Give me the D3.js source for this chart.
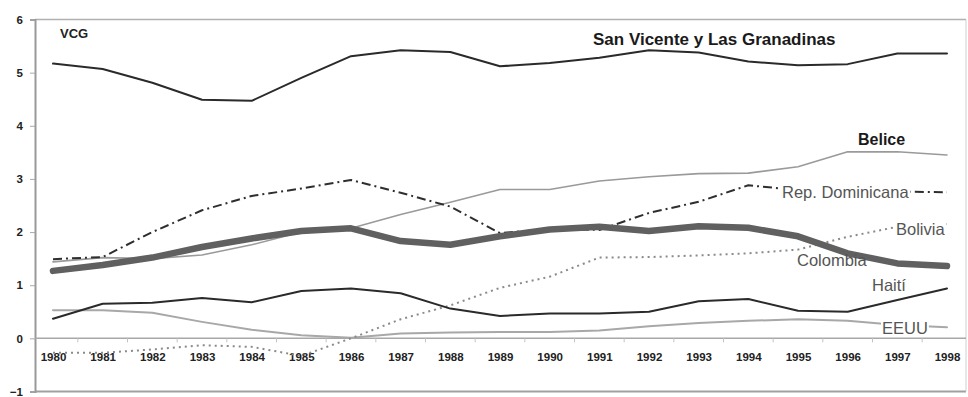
<!DOCTYPE html>
<html>
<head>
<meta charset="utf-8">
<script src="https://cdn.jsdelivr.net/npm/d3@7"></script>
<style>
  html, body { margin: 0; padding: 0; background: #fff; }
  svg { display: block; font-family: "Liberation Sans", Arial, sans-serif; }
</style>
</head>
<body>
<svg id="chart" width="968" height="397"></svg>
<script>
// Years on the category axis
const years = [1980, 1981, 1982, 1983, 1984, 1985, 1986, 1987, 1988, 1989,
               1990, 1991, 1992, 1993, 1994, 1995, 1996, 1997, 1998];
const yTicks = [-1, 0, 1, 2, 3, 4, 5, 6];

// Series values per year
const sanVicente = [5.17, 5.07, 4.81, 4.49, 4.47, 4.90, 5.31, 5.42, 5.39, 5.12,
                    5.18, 5.28, 5.42, 5.38, 5.21, 5.14, 5.16, 5.36, 5.36];
const belice     = [1.44, 1.52, 1.50, 1.57, 1.76, 2.00, 2.07, 2.33, 2.56, 2.80,
                    2.80, 2.96, 3.04, 3.10, 3.11, 3.23, 3.51, 3.51, 3.45];
const repDom     = [1.49, 1.53, 2.00, 2.41, 2.68, 2.82, 2.98, 2.74, 2.48, 1.98,
                    2.06, 2.04, 2.36, 2.57, 2.88, 2.79, 2.76, 2.76, 2.75];
const bolivia    = [-0.27, -0.27, -0.21, -0.13, -0.16, -0.33, 0.00, 0.36, 0.62, 0.95,
                    1.16, 1.52, 1.53, 1.56, 1.60, 1.67, 1.91, 2.10, 2.15];
const colombia   = [1.27, 1.38, 1.52, 1.72, 1.88, 2.02, 2.07, 1.83, 1.76, 1.92,
                    2.05, 2.10, 2.02, 2.11, 2.08, 1.92, 1.60, 1.41, 1.36];
const haiti      = [0.37, 0.65, 0.67, 0.76, 0.68, 0.89, 0.94, 0.85, 0.56, 0.42,
                    0.47, 0.47, 0.50, 0.70, 0.74, 0.52, 0.50, 0.72, 0.94];
const eeuu       = [0.53, 0.53, 0.48, 0.31, 0.16, 0.06, 0.01, 0.09, 0.11, 0.12,
                    0.12, 0.15, 0.23, 0.29, 0.33, 0.36, 0.33, 0.25, 0.21];

const series = [
  { name: "EEUU",                         values: eeuu,       color: "#a8a8a8", width: 2,   dash: null },
  { name: "Bolivia",                      values: bolivia,    color: "#8a8a8a", width: 2,   dash: "2,4" },
  { name: "Belice",                       values: belice,     color: "#9a9a9a", width: 1.6, dash: null },
  { name: "Rep. Dominicana",              values: repDom,     color: "#2e2e2e", width: 2,   dash: "9,4,2,4" },
  { name: "Colombia",                     values: colombia,   color: "#606060", width: 6.5, dash: null },
  { name: "Haití",                        values: haiti,      color: "#2a2a2a", width: 2,   dash: null },
  { name: "San Vicente y Las Granadinas", values: sanVicente, color: "#2a2a2a", width: 2,   dash: null }
];

const svg = d3.select("#chart");
const frame = { left: 35, right: 966, top: 19.5, bottom: 391.5 };

const x = d3.scalePoint().domain(years).range([53, 947]);
const y = d3.scaleLinear().domain([-1, 6]).range([frame.bottom, frame.top]);

// Plot frame
svg.append("line").attr("x1", frame.left).attr("x2", frame.right)
  .attr("y1", frame.top).attr("y2", frame.top)
  .attr("stroke", "#b0b0b0").attr("stroke-width", 1.5);
svg.append("line").attr("x1", frame.left).attr("x2", frame.right)
  .attr("y1", frame.bottom).attr("y2", frame.bottom)
  .attr("stroke", "#a0a0a0").attr("stroke-width", 2);
svg.append("line").attr("x1", frame.right).attr("x2", frame.right)
  .attr("y1", frame.top).attr("y2", frame.bottom)
  .attr("stroke", "#d0d0d0").attr("stroke-width", 1);

// Value axis
const yAxis = svg.append("g")
  .attr("transform", `translate(${frame.left},0)`)
  .call(d3.axisLeft(y).tickValues(yTicks).tickSize(5).tickPadding(7).tickFormat(d3.format("d")));
yAxis.select(".domain").attr("stroke", "#999").attr("stroke-width", 2);
yAxis.selectAll(".tick line").attr("stroke", "#aaa");
yAxis.selectAll("text")
  .attr("fill", "#222").style("font-size", "11.5px").style("font-weight", "bold")
  .style("font-family", "'Liberation Sans', Arial, sans-serif");

// Zero line with category boundary ticks
svg.append("line").attr("x1", frame.left).attr("x2", frame.right)
  .attr("y1", y(0)).attr("y2", y(0))
  .attr("stroke", "#a8a8a8").attr("stroke-width", 1.5);
const step = x.step();
const bounds = years.slice(0, -1).map(d => x(d) + step / 2);
svg.append("g").selectAll("line").data(bounds).join("line")
  .attr("x1", d => d).attr("x2", d => d)
  .attr("y1", y(0)).attr("y2", y(0) + 4)
  .attr("stroke", "#c4c4c4").attr("stroke-width", 1);

// Category axis labels just below zero line
const xAxis = svg.append("g")
  .attr("transform", `translate(0,${y(0)})`)
  .call(d3.axisBottom(x).tickSize(0).tickPadding(14));
xAxis.select(".domain").remove();
xAxis.selectAll("text")
  .attr("fill", "#222").style("font-size", "11.5px").style("font-weight", "bold")
  .style("font-family", "'Liberation Sans', Arial, sans-serif");

// Series lines
const line = d3.line()
  .x((d, i) => x(years[i]))
  .y(d => y(d));

svg.append("g").selectAll("path").data(series).join("path")
  .attr("d", d => line(d.values))
  .attr("fill", "none")
  .attr("stroke", d => d.color)
  .attr("stroke-width", d => d.width)
  .attr("stroke-dasharray", d => d.dash)
  .attr("stroke-linejoin", "round")
  .attr("stroke-linecap", d => d.dash ? "butt" : "round");

// Series labels
const labels = [
  { text: "VCG", x: 60, y: 33, size: 13, bold: true, color: "#222", bg: false },
  { text: "San Vicente y Las Granadinas", x: 593, y: 39, size: 17, bold: true, color: "#1a1a1a", bg: false },
  { text: "Belice", x: 858, y: 139, size: 16, bold: true, color: "#1a1a1a", bg: false },
  { text: "Rep. Dominicana", x: 782, y: 192, size: 16.5, bold: false, color: "#555", bg: true },
  { text: "Bolivia", x: 896, y: 229, size: 16.5, bold: false, color: "#555", bg: true },
  { text: "Colombia", x: 797, y: 260, size: 16.5, bold: false, color: "#555", bg: false },
  { text: "Haití", x: 872, y: 285, size: 16.5, bold: false, color: "#555", bg: false },
  { text: "EEUU", x: 882, y: 328, size: 16.5, bold: false, color: "#555", bg: true }
];

const lg = svg.append("g");
labels.forEach(l => {
  const g = lg.append("g");
  const t = g.append("text")
    .attr("x", l.x).attr("y", l.y)
    .attr("dy", "0.35em")
    .attr("fill", l.color)
    .style("font-size", l.size + "px")
    .style("font-weight", l.bold ? "bold" : "normal")
    .text(l.text);
  if (l.bg) {
    const b = t.node().getBBox();
    g.insert("rect", "text")
      .attr("x", b.x - 1).attr("y", b.y + 3)
      .attr("width", b.width + 2).attr("height", b.height - 6)
      .attr("fill", "#fff");
  }
});
</script>
</body>
</html>
